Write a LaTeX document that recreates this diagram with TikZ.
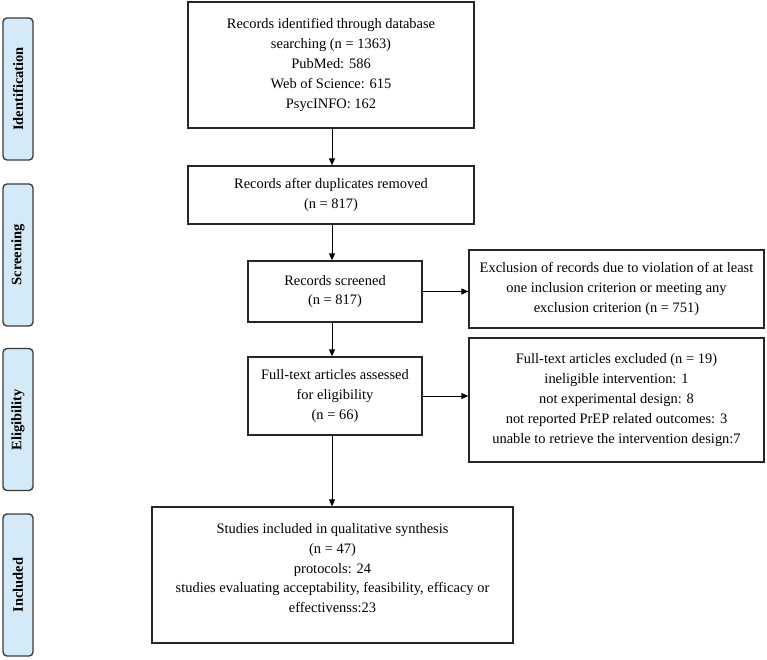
\documentclass[tikz,border=0pt]{standalone}
\usepackage{fontspec}
\setmainfont{Liberation Serif}
\usetikzlibrary{arrows.meta}
\definecolor{sidefill}{HTML}{D5EAF8}
\definecolor{sidedraw}{HTML}{3A3A3A}
\tikzset{
  flowbox/.style={draw=black!85, line width=1.3pt, align=center, inner sep=2pt,
    font=\fontsize{14.5}{20}\selectfont},
  sidebox/.style={draw=sidedraw, fill=sidefill, line width=1.4pt, rounded corners=4pt,
    minimum width=30bp, minimum height=142bp, inner sep=0pt},
  sidetext/.style={rotate=90, font=\fontsize{14.5}{17}\selectfont\bfseries},
  arr/.style={line width=0.9pt, -{Triangle[length=7pt,width=6pt]}}
}
\begin{document}
\begin{tikzpicture}[x=1bp,y=-1bp]
\useasboundingbox (0,0) rectangle (767,660);
% side labels
\node[sidebox] (sid) at (18,89) {};
\node[sidetext] (tid) at (sid.center) {Identification};
\node[sidebox] (sscr) at (18,255) {};
\node[sidetext] (tscr) at (sscr.center) {Screening};
\node[sidebox] (selg) at (18,419.5) {};
\node[sidetext] (telg) at (selg.center) {Eligibility};
\node[sidebox] (sinc) at (18,585) {};
\node[sidetext] (tinc) at (sinc.center) {Included};
% main boxes
\node[flowbox, minimum width=286bp, minimum height=126bp] (b1) at (331,65)
  {Records identified through database\\searching (n = 1363)\\PubMed: 586\\Web of Science: 615\\PsycINFO: 162};
\node[flowbox, minimum width=286bp, minimum height=58bp] (b2) at (331,195)
  {Records after duplicates removed\\(n = 817)};
\node[flowbox, minimum width=174bp, minimum height=61bp] (b3) at (335,291.5)
  {Records screened\\(n = 817)};
\node[flowbox, minimum width=174bp, minimum height=78bp] (b4) at (335,396)
  {Full-text articles assessed\\for eligibility\\(n = 66)};
\node[flowbox, minimum width=295bp, minimum height=78bp] (e1) at (616.5,289)
  {Exclusion of records due to violation of at least\\one inclusion criterion or meeting any\\exclusion criterion (n = 751)};
\node[flowbox, minimum width=295bp, minimum height=124bp] (e2) at (616.5,400)
  {Full-text articles excluded (n = 19)\\ineligible intervention: 1\\not experimental design: 8\\not reported PrEP related outcomes: 3\\unable to retrieve the intervention design:7};
\node[flowbox, minimum width=361bp, minimum height=136bp, text depth=14pt] (b5) at (332.5,575)
  {Studies included in qualitative synthesis\\(n = 47)\\protocols: 24\\studies evaluating acceptability, feasibility, efficacy or\\effectivenss:23};
% connectors
\coordinate (cx) at (332,0);
\draw[arr] (b1.south -| cx) -- (b2.north -| cx);
\draw[arr] (b2.south -| cx) -- (b3.north -| cx);
\draw[arr] (b3.south -| cx) -- (b4.north -| cx);
\draw[arr] (b4.south -| cx) -- (b5.north -| cx);
\draw[arr] (b3.east) -- (b3.east -| e1.west);
\draw[arr] (b4.east) -- (b4.east -| e2.west);
\end{tikzpicture}
\end{document}
